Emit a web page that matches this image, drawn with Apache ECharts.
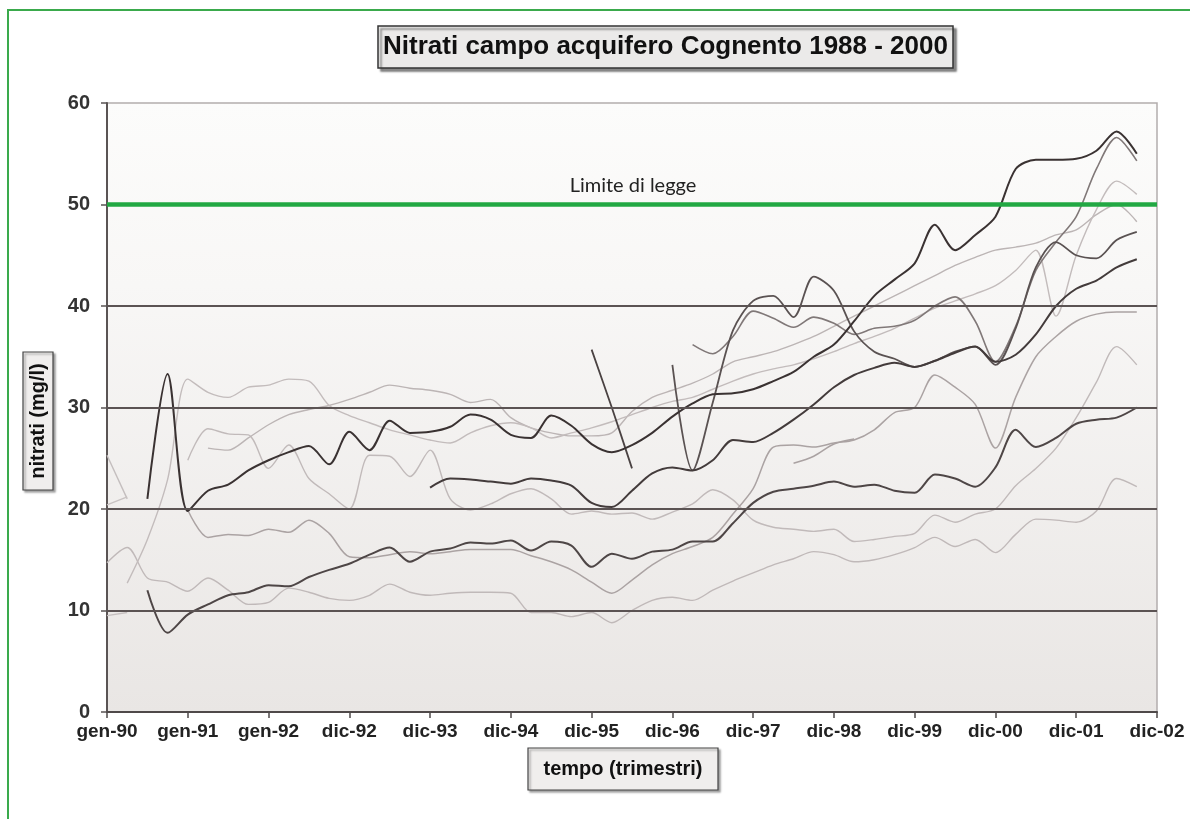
<!DOCTYPE html>
<html>
<head>
<meta charset="utf-8">
<script src="https://cdn.jsdelivr.net/npm/echarts@6/dist/echarts.min.js"></script>
<style>html,body{margin:0;padding:0;background:#fff}#c{width:1190px;height:819px}</style>
</head>
<body>
<div id="c"></div>
<script>
const _ = null;
const tickLabels = ['gen-90','gen-91','gen-92','dic-92','dic-93','dic-94','dic-95','dic-96','dic-97','dic-98','dic-99','dic-00','dic-01','dic-02'];
const titleText = 'Nitrati campo acquifero Cognento 1988 - 2000';
const yTitle = 'nitrati (mg/l)';
const xTitle = 'tempo (trimestri)';
const limitLabel = 'Limite di legge';
const limitValue = 50;
const gridValues = [10, 20, 30, 40];

// quarterly values (53 quarters from gen-90 to dic-02), mg/l
const pozzo1 = [_,_,21.0,33.3,19.8,21.8,22.4,23.8,24.8,25.6,26.2,24.4,27.6,25.8,28.7,27.5,27.6,28.1,29.3,28.8,27.3,27.0,29.2,28.2,26.4,25.6,26.3,27.5,29.1,30.4,31.3,31.4,31.8,32.6,33.5,35.0,36.2,38.5,41.0,42.6,44.2,48.0,45.5,47.0,48.8,53.5,54.4,54.4,54.5,55.3,57.2,55.0];
const pozzo2 = [_,_,_,_,_,_,_,_,_,_,_,_,_,_,_,_,22.1,23.0,22.9,22.7,22.5,23.0,22.8,22.3,20.6,20.2,21.8,23.5,24.1,23.8,24.8,26.8,26.6,27.5,28.8,30.3,32.0,33.2,33.9,34.4,34.0,34.6,35.4,36.0,34.5,35.2,37.2,40.0,41.7,42.5,43.8,44.6];
const pozzo3 = [_,_,12.0,7.8,9.6,10.6,11.5,11.8,12.5,12.4,13.3,14.0,14.6,15.5,16.2,14.8,15.8,16.1,16.7,16.6,16.9,15.9,16.8,16.4,14.3,15.6,15.1,15.8,16.0,16.8,16.8,18.6,20.6,21.7,22.0,22.3,22.7,22.2,22.4,21.8,21.6,23.4,23.0,22.2,24.1,27.8,26.1,27.0,28.4,28.8,29.0,30.0];
const pozzo4 = [14.7,16.2,13.2,12.8,11.9,13.2,12.0,10.6,10.8,12.2,11.8,11.2,11.0,11.5,12.6,11.8,11.5,11.7,11.8,11.8,11.7,9.8,9.8,9.4,9.8,8.8,10.0,11.0,11.3,11.0,12.0,12.9,13.7,14.5,15.1,15.8,15.5,14.8,15.0,15.5,16.2,17.2,16.3,17.0,15.7,17.5,19.0,18.9,18.7,19.8,23.0,22.2];
const pozzo5 = [_,_,_,_,_,_,_,_,_,_,_,_,_,_,_,_,_,_,_,_,_,_,_,_,_,_,_,_,34.2,23.8,30.5,37.6,40.5,41.0,38.9,42.9,41.5,37.5,35.5,34.8,34.0,34.6,35.5,36.0,34.2,37.8,43.8,46.3,45.0,44.7,46.5,47.3];
const pozzo6 = [_,_,_,_,_,_,_,_,_,_,_,_,_,_,_,_,_,_,_,_,_,_,_,_,_,_,_,_,_,36.2,35.3,37.0,39.5,38.8,37.9,38.9,38.3,37.2,37.8,38.0,38.6,40.0,40.9,38.5,34.5,38.0,43.5,46.3,48.8,53.5,56.6,54.3];
const pozzo7 = [_,12.7,17.0,22.9,32.8,31.5,31.0,32.0,32.2,32.8,32.6,30.2,29.2,28.5,27.8,27.3,26.8,26.5,27.5,28.2,28.5,28.0,27.0,27.5,28.0,28.6,29.3,30.0,30.6,31.0,31.8,32.6,33.3,33.8,34.2,34.8,35.5,36.3,37.0,37.8,38.8,39.8,40.5,41.2,42.0,43.5,45.5,39.0,45.0,49.5,52.3,51.0];
const pozzo8 = [9.5,9.8];
const pozzo9 = [25.3,21.0];
const pozzo10 = [20.4,21.2];
const pozzo11 = [_,_,_,_,19.9,17.2,17.5,17.4,18.0,17.7,18.9,17.6,15.3,15.2,15.5,15.8,15.6,15.8,16.0,16.0,16.0,15.4,14.8,14.0,12.8,11.7,13.0,14.5,15.6,16.3,17.2,19.5,22.0,26.1,26.3,26.1,26.5,26.8,27.8,29.5,30.0,33.2,32.0,30.3,26.0,31.0,35.0,37.0,38.5,39.2,39.4,39.4];
const pozzo12 = [_,_,_,_,24.8,27.9,27.4,27.3,24.0,26.3,23.0,21.5,20.0,25.3,25.2,23.2,25.8,21.0,19.9,20.5,21.5,22.0,21.0,19.5,19.8,19.5,19.6,19.0,19.7,20.5,21.9,20.9,18.9,18.2,18.0,17.8,18.0,16.8,17.0,17.3,17.6,19.4,18.7,19.5,20.0,22.3,24.0,26.0,29.0,32.5,36.0,34.2];
const pozzo13 = [_,_,_,_,_,_,_,_,_,_,_,_,_,_,_,_,_,_,_,_,_,_,_,_,35.7,30.0,24.0];
const pozzo14 = [_,_,_,_,_,26.0,25.8,27.0,28.3,29.3,29.8,30.2,30.8,31.5,32.2,31.9,31.7,31.3,30.5,30.8,29.0,28.0,27.5,27.2,27.2,27.5,29.6,31.0,31.7,32.4,33.3,34.5,35.0,35.5,36.2,37.0,38.0,39.0,40.0,41.0,42.0,43.0,44.0,44.8,45.5,45.8,46.2,47.0,47.5,49.0,50.0,48.3];
const pozzo15 = [_,_,_,_,_,_,_,_,_,_,_,_,_,_,_,_,_,_,_,_,_,_,_,_,_,_,_,_,_,_,_,_,_,_,24.5,25.2,26.4,26.9];

const categories = [];
for (let i = 0; i < 53; i++) {
  categories.push(i % 4 === 0 ? tickLabels[i / 4] : tickLabels[Math.floor(i / 4)] + '.' + (i % 4));
}

const seriesDefs = [
  {name:'pozzo 8', data:pozzo8, color:'#c6c0c0', w:1.4},
  {name:'pozzo 9', data:pozzo9, color:'#c4bebe', w:1.4},
  {name:'pozzo 10', data:pozzo10, color:'#c8c2c2', w:1.4},
  {name:'pozzo 4', data:pozzo4, color:'#c0b9b9', w:1.4},
  {name:'pozzo 12', data:pozzo12, color:'#c1baba', w:1.4},
  {name:'pozzo 14', data:pozzo14, color:'#bcb5b5', w:1.4},
  {name:'pozzo 7', data:pozzo7, color:'#c3bcbc', w:1.4},
  {name:'pozzo 11', data:pozzo11, color:'#aba3a3', w:1.5},
  {name:'pozzo 15', data:pozzo15, color:'#aaa2a2', w:1.5},
  {name:'pozzo 6', data:pozzo6, color:'#807878', w:1.6},
  {name:'pozzo 5', data:pozzo5, color:'#5a5252', w:1.8},
  {name:'pozzo 13', data:pozzo13, color:'#4a4242', w:1.8},
  {name:'pozzo 3', data:pozzo3, color:'#4e4646', w:2},
  {name:'pozzo 2', data:pozzo2, color:'#433b3b', w:2},
  {name:'pozzo 1', data:pozzo1, color:'#3a3232', w:2}
];

const series = [{
  name: 'griglia',
  type: 'line',
  data: categories.map(() => null),
  z: 1,
  silent: true,
  markLine: {
    silent: true,
    symbol: ['none', 'none'],
    label: {show: false},
    animation: false,
    data: gridValues.map(v => ({yAxis: v, lineStyle: {color: '#5b5353', width: 2, type: 'solid'}}))
      .concat([{yAxis: limitValue, lineStyle: {color: '#22a843', width: 4.5, type: 'solid'}}])
  }
}].concat(seriesDefs.map(s => ({
  name: s.name,
  type: 'line',
  data: s.data,
  smooth: 0.3,
  symbol: 'none',
  connectNulls: false,
  z: 3,
  lineStyle: {color: s.color, width: s.w},
  itemStyle: {color: s.color}
})));

const chart = echarts.init(document.getElementById('c'), null, {renderer: 'canvas'});
chart.setOption({
  animation: false,
  backgroundColor: '#ffffff',
  grid: {
    left: 107, right: 33, top: 103, bottom: 107,
    containLabel: false,
    outerBoundsMode: 'none',
    show: true,
    borderColor: '#b3adad',
    borderWidth: 1.5,
    backgroundColor: {
      type: 'linear', x: 0, y: 0, x2: 0, y2: 1,
      colorStops: [
        {offset: 0, color: '#fcfcfb'},
        {offset: 0.3, color: '#f8f7f6'},
        {offset: 1, color: '#e9e6e4'}
      ]
    }
  },
  xAxis: {
    type: 'category',
    data: categories,
    boundaryGap: false,
    axisLine: {show: true, lineStyle: {color: '#4f4949', width: 2}},
    axisTick: {show: true, interval: 3, length: 6, lineStyle: {color: '#4f4949', width: 1.5}},
    axisLabel: {
      interval: 3, margin: 10, color: '#222',
      fontFamily: '"Liberation Sans", Arial, sans-serif', fontWeight: 'bold', fontSize: 19
    },
    splitLine: {show: false}
  },
  yAxis: {
    type: 'value',
    min: 0, max: 60, interval: 10,
    axisLine: {show: true, lineStyle: {color: '#5a5454', width: 2}},
    axisTick: {show: true, length: 6, lineStyle: {color: '#5a5454', width: 1.5}},
    axisLabel: {
      margin: 17, color: '#333',
      fontFamily: '"Liberation Sans", Arial, sans-serif', fontWeight: 'bold', fontSize: 20
    },
    splitLine: {show: false}
  },
  graphic: [
    {type: 'line', silent: true, shape: {x1: 8, y1: 10, x2: 8, y2: 819}, style: {stroke: '#3aaa4c', lineWidth: 2}},
    {type: 'line', silent: true, shape: {x1: 7, y1: 10, x2: 1190, y2: 10}, style: {stroke: '#3aaa4c', lineWidth: 2}},
    {type: 'rect', silent: true, shape: {x: 378, y: 26, width: 575, height: 42},
      style: {fill: '#ebeae9', stroke: '#333', lineWidth: 1.5, shadowColor: 'rgba(0,0,0,0.45)', shadowOffsetX: 3, shadowOffsetY: 3, shadowBlur: 2}},
    {type: 'text', silent: true, x: 665.5, y: 47,
      style: {text: titleText, font: 'bold 26px "Liberation Sans", Arial, sans-serif', fill: '#111',
        align: 'center', verticalAlign: 'middle', textAlign: 'center', textVerticalAlign: 'middle'}},
    {type: 'rect', silent: true, shape: {x: 23, y: 352, width: 30, height: 138},
      style: {fill: '#f0eeed', stroke: '#444', lineWidth: 1.2, shadowColor: 'rgba(0,0,0,0.35)', shadowOffsetX: 2, shadowOffsetY: 2, shadowBlur: 2}},
    {type: 'text', silent: true, x: 38, y: 421, rotation: Math.PI / 2,
      style: {text: yTitle, font: 'bold 20px "Liberation Sans", Arial, sans-serif', fill: '#111',
        align: 'center', verticalAlign: 'middle', textAlign: 'center', textVerticalAlign: 'middle'}},
    {type: 'rect', silent: true, shape: {x: 528, y: 748, width: 190, height: 42},
      style: {fill: '#f0eeed', stroke: '#444', lineWidth: 1.2, shadowColor: 'rgba(0,0,0,0.35)', shadowOffsetX: 2, shadowOffsetY: 2, shadowBlur: 2}},
    {type: 'text', silent: true, x: 623, y: 769,
      style: {text: xTitle, font: 'bold 20px "Liberation Sans", Arial, sans-serif', fill: '#111',
        align: 'center', verticalAlign: 'middle', textAlign: 'center', textVerticalAlign: 'middle'}},
    {type: 'text', silent: true, x: 633, y: 186, z: 10,
      style: {text: limitLabel, font: '20px Lato, "Noto Sans", sans-serif', fill: '#222',
        align: 'center', verticalAlign: 'middle', textAlign: 'center', textVerticalAlign: 'middle'}}
  ],
  series: series
});
</script>
</body>
</html>
